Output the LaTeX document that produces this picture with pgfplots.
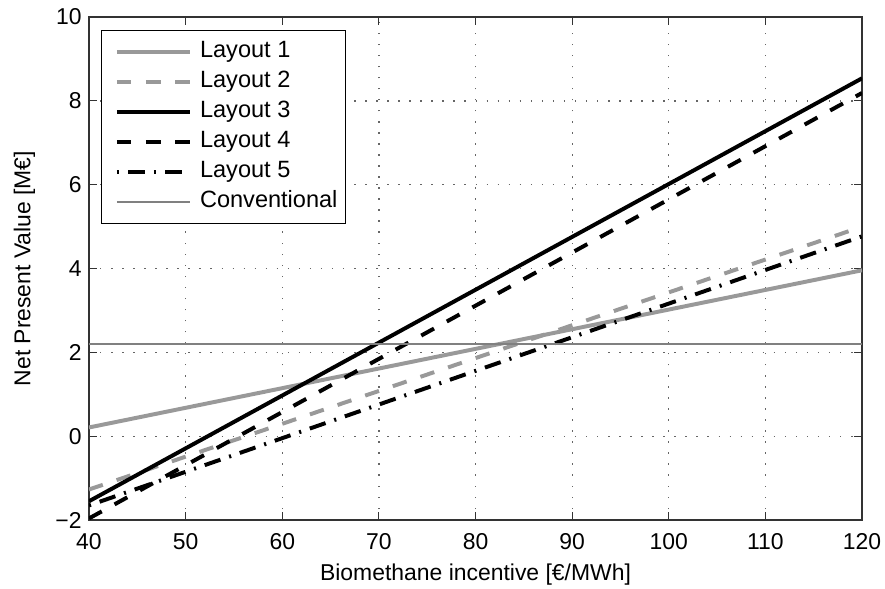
\documentclass[border=0pt]{standalone}
\usepackage{fontspec}
\setmainfont{Liberation Sans}
\usepackage{pgfplots}
\pgfplotsset{compat=1.18}
\definecolor{lgray}{gray}{0.6}
\definecolor{cgray}{gray}{0.5}
\begin{document}
\begin{tikzpicture}
\begin{axis}[
  scale only axis,
  width=371pt, height=241.4pt,
  xmin=40, xmax=120, ymin=-2, ymax=10,
  xtick={40,50,...,120}, ytick={-2,0,...,10},
  yticklabels={−2,0,2,4,6,8,10},
  tick align=inside,
  xtick pos=both, ytick pos=both,
  major tick length=4pt,
  tick style={black!80, line width=0.5pt},
  axis line style={black!80, line width=0.6pt},
  grid=major,
  major grid style={black!60, line width=0.6pt, dash pattern=on 0.7pt off 4.6pt},
  font=\fontsize{11}{13}\selectfont,
  /pgf/number format/assume math mode=true,
  ticklabel style={font=\fontsize{11}{13}\selectfont},
  xticklabel style={yshift=-3pt},
  xlabel={Biomethane incentive [€/MWh]},
  ylabel={Net Present Value [M€]},
  xlabel style={at={(axis description cs:0.5,-0.120)}, anchor=base},
  ylabel style={at={(axis description cs:-0.0835,0.5)}, anchor=center},
  legend cell align=left,
  legend style={at={(axis description cs:0,1)}, anchor=north west,
    xshift=5.6pt, yshift=-6.1pt, draw=black, line width=0.6pt,
    inner xsep=2.5pt, inner ysep=3.5pt, row sep=0.9pt,
    nodes={inner sep=1.5pt, text height=8pt, text depth=2.5pt},
    font=\fontsize{11.3}{13}\selectfont},
  legend image code/.code={\path (0pt,0pt) (41.5pt,0pt); \draw[#1] (4pt,0pt) -- (39pt,0pt);},
]
\addplot[lgray, line width=1.9pt] coordinates {(40,0.21) (120,3.96)};
\addlegendentry{Layout 1}
\addplot[lgray, line width=1.9pt, dash pattern=on 7pt off 7pt] coordinates {(40,-1.27) (120,5.0)};
\addlegendentry{Layout 2}
\addplot[black, line width=1.9pt] coordinates {(40,-1.55) (120,8.54)};
\addlegendentry{Layout 3}
\addplot[black, line width=1.9pt, dash pattern=on 7pt off 7pt] coordinates {(40,-1.96) (120,8.19)};
\addlegendentry{Layout 4}
\addplot[black, line width=1.9pt, dash pattern=on 1pt off 4.4pt on 8pt off 4.4pt] coordinates {(40,-1.65) (120,4.77)};
\addlegendentry{Layout 5}
\addplot[cgray, line width=0.9pt] coordinates {(40,2.2) (120,2.2)};
\addlegendentry{Conventional}
\end{axis}
\pgfresetboundingbox
\path ([xshift=-42.7pt,yshift=-32.6pt]current axis.south west) rectangle ([xshift=11pt,yshift=8.2pt]current axis.north east);
\end{tikzpicture}
\end{document}
